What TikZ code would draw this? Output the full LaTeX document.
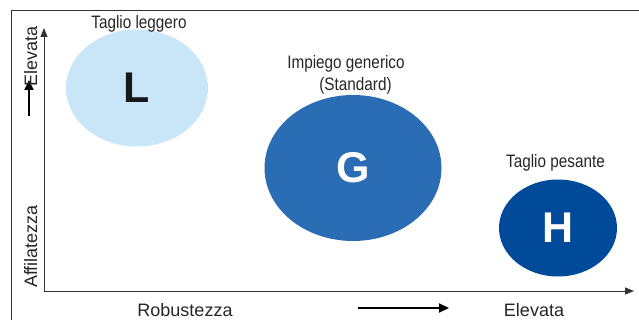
\documentclass[tikz,border=0pt]{standalone}
\usepackage{fontspec}
\usepackage{graphicx}
\setmainfont{Liberation Sans}
\usetikzlibrary{arrows.meta,shapes.geometric}
\definecolor{lightb}{HTML}{C9E6F8}
\definecolor{midb}{HTML}{2A6DB5}
\definecolor{darkb}{HTML}{004A99}
\definecolor{linec}{HTML}{333333}
\newcommand{\nt}[1]{\scalebox{0.85}[1]{#1}}
\begin{document}
\begin{tikzpicture}[x=1pt,y=-1pt,
  lbl/.style={font=\fontsize{18}{20}\selectfont, text=black!85, inner sep=0pt, anchor=base},
  blob/.style={ellipse, inner sep=0pt, font=\fontsize{43}{43}\selectfont\bfseries},
  axis/.style={draw=linec, line width=0.8pt, -{Triangle[length=9pt,width=7pt]}},
  sarr/.style={draw=black, line width=2pt, -{Triangle[length=10pt,width=9pt]}}]
\useasboundingbox (0,0) rectangle (639,320);
% frame
\draw[linec, line width=0.9pt] (11,320) -- (11,10) -- (639,10);
% axes
\coordinate (O) at (44,291);
\coordinate (Ytop) at (44,28);
\coordinate (Xend) at (634,291);
\draw[axis] (O) -- (Ytop);
\draw[axis] (O) -- (Xend);
% small arrows
\coordinate (va) at (29,116);
\coordinate (vb) at (29,80);
\draw[sarr] (va) -- (vb);
\coordinate (ha) at (358,308);
\coordinate (hb) at (449,308);
\draw[sarr] (ha) -- (hb);
% axis labels
\node[lbl, rotate=90] (ely) at (37,56.5) {Elevata};
\node[lbl, rotate=90] (aff) at (37,246.5) {Affilatezza};
\node[lbl] (rob) at (185,316) {Robustezza};
\node[lbl] (elx) at (534,316) {Elevata};
% ellipses
\node[blob, fill=lightb, text=black!90, minimum width=142pt, minimum height=117pt] (L) at (137,88) {L};
\node[blob, fill=midb, text=white, minimum width=177pt, minimum height=146pt] (G) at (353,168) {G};
\node[blob, fill=darkb, text=white, minimum width=118pt, minimum height=97pt] (H) at (558,228) {H};
% labels
\node[lbl] (tl) at (139,29) {\nt{Taglio leggero}};
\node[lbl] (ig) at (346,68.5) {\nt{Impiego generico}};
\node[lbl] (st) at (355.5,91) {\nt{(Standard)}};
\node[lbl] (tp) at (555.5,168) {\nt{Taglio pesante}};
\end{tikzpicture}
\end{document}
